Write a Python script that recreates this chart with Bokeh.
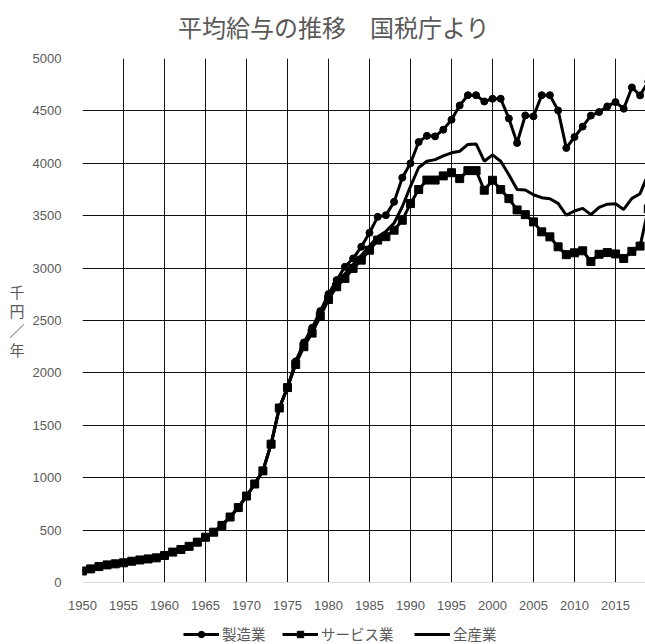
from bokeh.plotting import figure
from bokeh.layouts import column
from bokeh.models import Legend, LegendItem, FixedTicker, Range1d, Label
from bokeh.embed import file_html
from bokeh.resources import INLINE

years = list(range(1950, 2020))

manufacturing = [
    110, 130, 152, 168, 178, 188, 203, 215, 225, 235,
    258, 290, 315, 345, 385, 432, 480, 545, 625, 715,
    825, 940, 1065, 1320, 1665, 1860, 2110, 2290, 2430, 2590,
    2752, 2886, 3013, 3092, 3203, 3337, 3489, 3505, 3632, 3863,
    4000, 4203, 4262, 4257, 4321, 4416, 4552, 4650, 4650, 4590,
    4616, 4616, 4428, 4194, 4457, 4448, 4650, 4650, 4505, 4146,
    4251, 4350, 4455, 4489, 4543, 4584, 4521, 4724, 4648, 4780,
]

services = [
    110, 130, 152, 168, 178, 188, 203, 215, 225, 235,
    258, 290, 315, 345, 385, 432, 480, 545, 625, 715,
    825, 940, 1065, 1320, 1665, 1860, 2080, 2250, 2380, 2540,
    2700, 2822, 2902, 2997, 3076, 3171, 3267, 3300, 3362, 3457,
    3616, 3750, 3840, 3840, 3880, 3910, 3854, 3930, 3930, 3743,
    3838, 3749, 3663, 3555, 3510, 3441, 3346, 3298, 3203, 3128,
    3146, 3165, 3063, 3132, 3148, 3135, 3092, 3160, 3210, 3565,
]

all_industries = [
    110, 130, 152, 168, 178, 188, 203, 215, 225, 235,
    258, 290, 315, 345, 385, 432, 480, 545, 625, 715,
    825, 940, 1065, 1320, 1665, 1860, 2095, 2265, 2400, 2560,
    2720, 2845, 2945, 3035, 3120, 3210, 3300, 3350, 3430, 3585,
    3780, 3960, 4020, 4035, 4070, 4100, 4115, 4180, 4185, 4020,
    4080, 4020, 3890, 3750, 3745, 3700, 3672, 3662, 3618, 3505,
    3545, 3570, 3510, 3580, 3610, 3615, 3560, 3665, 3710, 3900,
]

series_names = ["製造業", "サービス業", "全産業"]
title_text = "平均給与の推移\u3000国税庁より"
y_label_text = "千\n円\n／\n年"
x_ticks = [1950, 1955, 1960, 1965, 1970, 1975, 1980, 1985, 1990, 1995, 2000, 2005, 2010, 2015]
y_ticks = [0, 500, 1000, 1500, 2000, 2500, 3000, 3500, 4000, 4500, 5000]

CJK = "Noto Sans CJK JP"
GRAY = "#595959"
W = 645
LEFT = 82
TITLE_H = 44
LEGEND_H = 32
MAIN_H = 644 - TITLE_H - LEGEND_H
LEGEND_X = [183, 282, 414]   # left edge of each legend entry, in page pixels


def strip(height, y_range):
    f = figure(width=W, height=height, output_backend="svg", toolbar_location=None,
               x_range=Range1d(LEFT, W), y_range=y_range,
               x_axis_location=None, y_axis_location=None,
               min_border_left=LEFT, min_border_right=0, min_border_top=0, min_border_bottom=0)
    f.outline_line_color = None
    f.xgrid.visible = False
    f.ygrid.visible = False
    return f


# ---------------- title strip ----------------
tf = strip(TITLE_H, Range1d(TITLE_H, 0))
tf.add_layout(Label(x=333.5, y=26, text=title_text, text_align="center", text_baseline="middle",
                    text_font=CJK, text_font_size="24px", text_color=GRAY))

# ---------------- main chart ----------------
p = figure(width=W, height=MAIN_H, output_backend="svg", toolbar_location=None,
           x_range=Range1d(1950, 2018.66), y_range=Range1d(0, 5000),
           min_border_left=LEFT, min_border_right=0,
           min_border_top=58 - TITLE_H, min_border_bottom=TITLE_H + MAIN_H - 583)
p.outline_line_color = None

p.xgrid.ticker = FixedTicker(ticks=x_ticks)
p.ygrid.ticker = FixedTicker(ticks=y_ticks)
for g in (p.xgrid, p.ygrid):
    g.grid_line_color = "#111111"
    g.grid_line_width = 1

p.xaxis.ticker = FixedTicker(ticks=x_ticks)
p.yaxis.ticker = FixedTicker(ticks=y_ticks)
for ax in (p.xaxis, p.yaxis):
    ax.major_tick_line_color = None
    ax.minor_tick_line_color = None
    ax.major_label_text_color = GRAY
    ax.major_label_text_font = "Liberation Sans"
    ax.major_label_text_font_size = "13px"
p.xaxis.axis_line_color = "#d9d9d9"
p.xaxis.axis_line_width = 1
p.yaxis.axis_line_color = None
p.xaxis.major_label_standoff = 12
p.yaxis.major_label_standoff = 15

p.yaxis.axis_label = y_label_text
p.yaxis.axis_label_orientation = "horizontal"
p.yaxis.axis_label_text_font = CJK
p.yaxis.axis_label_text_font_size = "15px"
p.yaxis.axis_label_text_font_style = "normal"
p.yaxis.axis_label_text_color = GRAY
p.yaxis.axis_label_text_line_height = 0.93
p.yaxis.axis_label_standoff = 5

p.line(years, manufacturing, line_color="black", line_width=3)
p.scatter(years, manufacturing, marker="circle", size=7, fill_color="black", line_color="black")
p.line(years, services, line_color="black", line_width=3)
p.scatter(years, services, marker="square", size=8, fill_color="black", line_color="black")
p.line(years, all_industries, line_color="black", line_width=3)

# ---------------- legend strip ----------------
# the series are drawn again outside this strip's visible range only to give the legend its samples
lf = strip(LEGEND_H, Range1d(0, 1))
k1l = lf.line(years, manufacturing, line_color="black", line_width=3)
k1m = lf.scatter(years, manufacturing, marker="circle", size=7, fill_color="black", line_color="black")
k2l = lf.line(years, services, line_color="black", line_width=3)
k2m = lf.scatter(years, services, marker="square", size=8, fill_color="black", line_color="black")
k3l = lf.line(years, all_industries, line_color="black", line_width=3)
lf.x_range = Range1d(0, 1)

entries = [[k1l, k1m], [k2l, k2m], [k3l]]
for name, rends, x0 in zip(series_names, entries, LEGEND_X):
    lg = Legend(items=[LegendItem(label=name, renderers=rends)],
                orientation="horizontal", location=(x0 - LEFT, 0))
    lg.label_text_font = CJK
    lg.label_text_font_size = "14.5px"
    lg.label_text_color = GRAY
    lg.glyph_width = 36
    lg.glyph_height = 16
    lg.label_height = 16
    lg.label_standoff = 3
    lg.padding = 0
    lg.margin = 0
    lg.border_line_color = None
    lg.background_fill_alpha = 0
    lf.add_layout(lg, "center")

layout = column(tf, p, lf, spacing=0)
open("out.html", "w").write(file_html(layout, INLINE))
